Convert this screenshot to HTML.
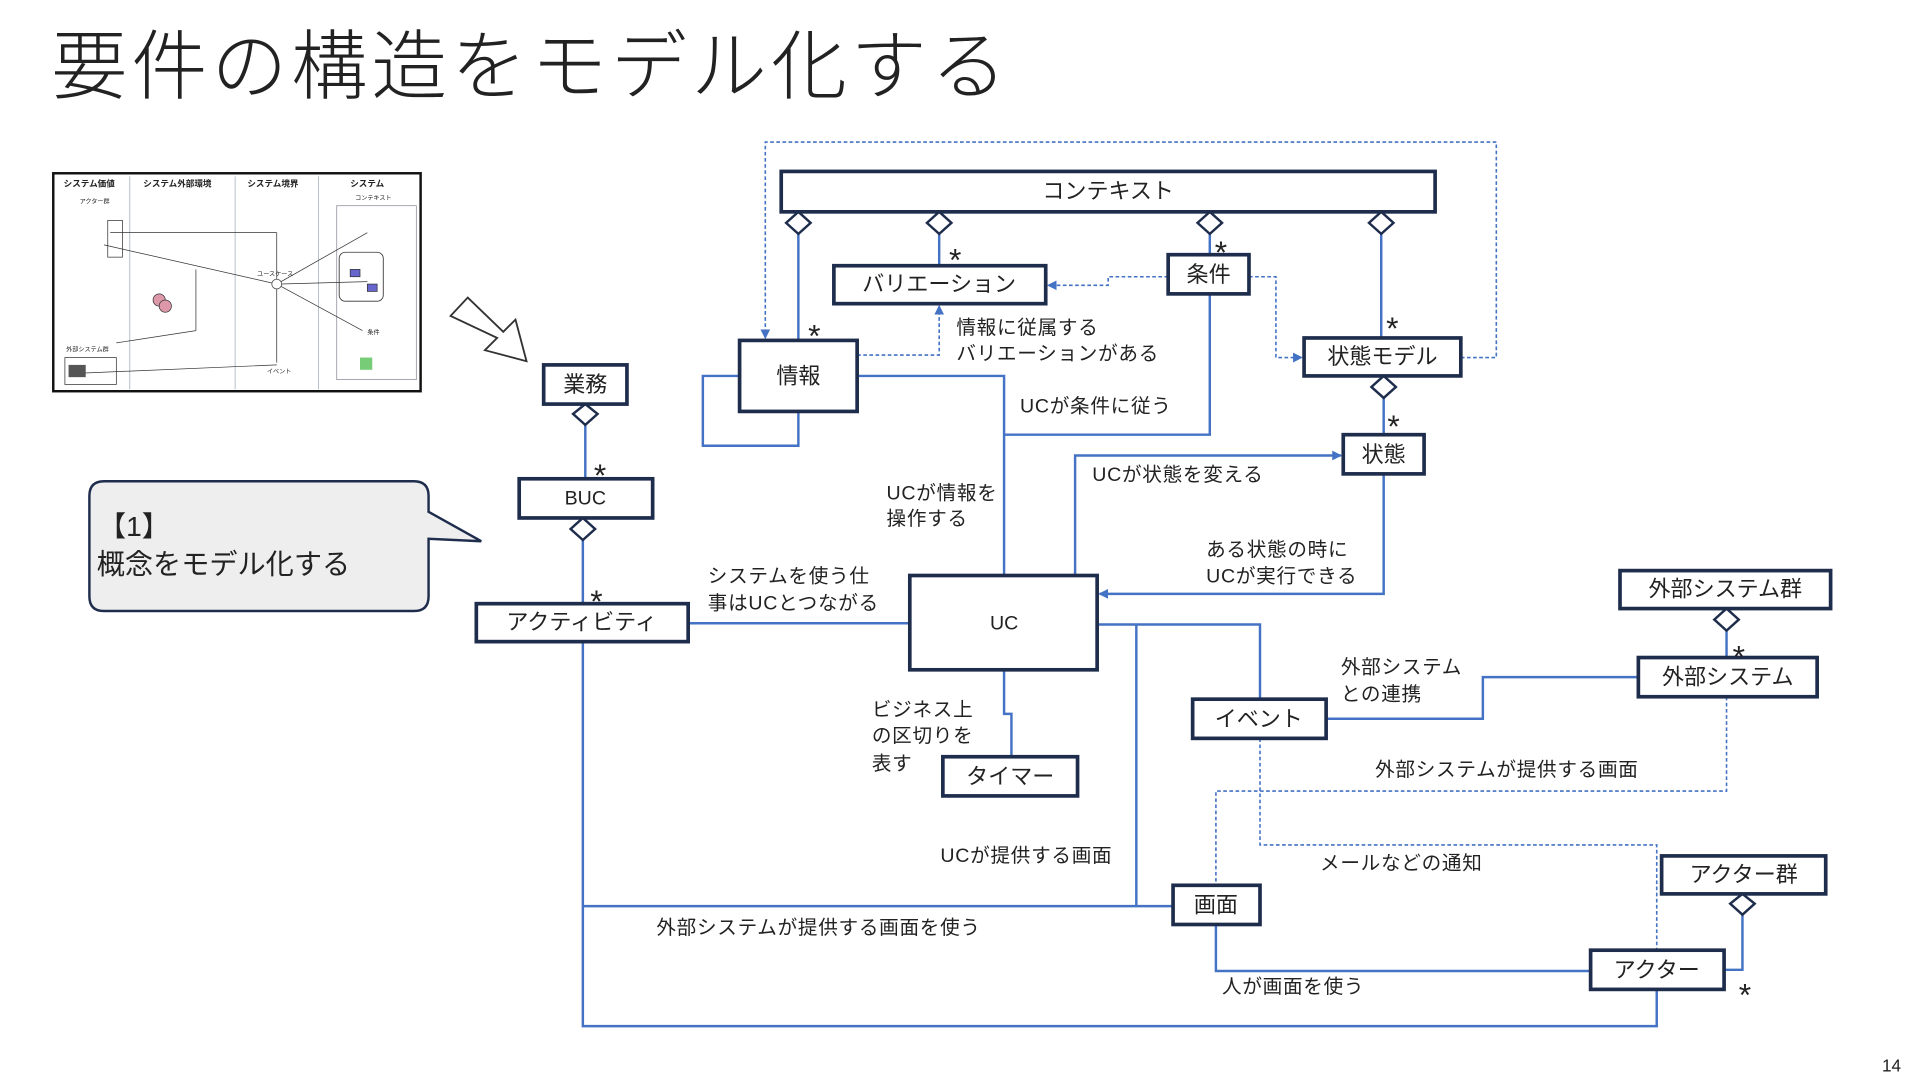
<!DOCTYPE html>
<html><head><meta charset="utf-8"><style>
html,body{margin:0;padding:0;background:#fff;}
svg{display:block}
text{font-family:"Liberation Sans","Noto Sans CJK JP",sans-serif;fill:#222;dominant-baseline:central}
</style></head><body>
<svg width="1920" height="1080" viewBox="0 0 1568 882" xmlns="http://www.w3.org/2000/svg">
<defs>
<marker id="ar" markerWidth="8" markerHeight="8" refX="7" refY="4" orient="auto" markerUnits="userSpaceOnUse"><path d="M0,0 L8,4 L0,8 z" fill="#4472c4"/></marker>
</defs>
<text x="42" y="55" font-size="62" letter-spacing="3.3" style="font-weight:300" fill="#333">要件の構造をモデル化する</text>

<!-- thumbnail -->
<g>
<rect x="43.5" y="141.5" width="300" height="178" fill="#fff" stroke="#111" stroke-width="2"/>
<g stroke="#9ab" stroke-width="0.6"><line x1="106" y1="144" x2="106" y2="318"/><line x1="192" y1="144" x2="192" y2="318"/><line x1="260" y1="144" x2="260" y2="318"/></g>
<g font-size="7" font-weight="bold"><text x="52" y="150">システム価値</text><text x="117" y="150">システム外部環境</text><text x="202" y="150">システム境界</text><text x="286" y="150">システム</text></g>
<rect x="275" y="168" width="65" height="142" fill="none" stroke="#889" stroke-width="0.6"/>
<rect x="277" y="206" width="36" height="40" rx="5" fill="none" stroke="#333" stroke-width="0.7"/>
<rect x="88" y="180" width="12" height="30" fill="none" stroke="#333" stroke-width="0.6"/>
<g stroke="#333" stroke-width="0.6" fill="none">
<line x1="90" y1="190" x2="226" y2="190"/><line x1="226" y1="190" x2="226" y2="296"/>
<path d="M85 200 L226 232 L300 190 M226 232 L300 230 M226 232 L296 270 M60 305 L226 298"/>
<line x1="160" y1="220" x2="160" y2="270"/><line x1="95" y1="280" x2="160" y2="270"/>
<circle cx="226" cy="232" r="4" fill="#fff"/>
<circle cx="130" cy="245" r="5" fill="#d9a"/><circle cx="135" cy="250" r="5" fill="#d9a"/>
<rect x="286" y="220" width="8" height="6" fill="#66c"/><rect x="300" y="232" width="8" height="6" fill="#66c"/>
<rect x="294" y="292" width="10" height="10" fill="#7c7" stroke="none"/>
<rect x="56" y="298" width="14" height="10" fill="#555" stroke="none"/>
</g>
<g font-size="5"><text x="65" y="165">アクター群</text><text x="210" y="224">ユースケース</text><text x="300" y="272">条件</text><text x="218" y="304">イベント</text><text x="54" y="286">外部システム群</text><text x="290" y="162">コンテキスト</text></g>
<rect x="53" y="292" width="42" height="22" fill="none" stroke="#333" stroke-width="0.6"/>
</g>

<!-- big arrow -->
<path d="M368,258 L382,243 L411,271 L421,261 L430,295 L396,286 L406,276 Z" fill="#fff" stroke="#333" stroke-width="1.5"/>

<!-- callout -->
<path d="M85,393 L338,393 Q350,393 350,405 L350,418 L393,442 L350,440 L350,487 Q350,499 338,499 L85,499 Q73,499 73,487 L73,405 Q73,393 85,393 Z" fill="#eeeeee" stroke="#1f2d4d" stroke-width="2"/>
<text x="80" y="430" font-size="23">【1】</text>
<text x="79" y="461" font-size="23">概念をモデル化する</text>

<!-- connectors -->
<g stroke="#4472c4" stroke-width="2" fill="none">
<line x1="652" y1="190" x2="652" y2="278"/>
<line x1="767" y1="190" x2="767" y2="217"/>
<line x1="988" y1="190" x2="988" y2="208"/>
<line x1="1128" y1="190" x2="1128" y2="276"/>
<path d="M604,307 L574,307 L574,364 L652,364 L652,336"/>
<path d="M700,307 L820,307 L820,470"/>
<path d="M988,240 L988,355 L820,355"/>
<line x1="1130" y1="324" x2="1130" y2="355"/>
<path d="M878,470 L878,372 L1095,372" marker-end="url(#ar)"/>
<path d="M1130,387 L1130,485 L898,485" marker-end="url(#ar)"/>
<line x1="478" y1="346" x2="478" y2="391"/>
<line x1="476" y1="440" x2="476" y2="493"/>
<line x1="562" y1="509" x2="743" y2="509"/>
<path d="M476,524 L476,838 L1353,838 L1353,808"/>
<line x1="476" y1="740" x2="958" y2="740"/>
<path d="M896,510 L1029,510 L1029,571"/>
<line x1="928" y1="510" x2="928" y2="740"/>
<path d="M820,547 L820,583 L826,583 L826,618"/>
<path d="M1083,587 L1211,587 L1211,553 L1338,553"/>
<line x1="1410" y1="514" x2="1410" y2="537"/>
<path d="M993,755 L993,793 L1299,793"/>
<path d="M1423,746 L1423,792 L1408,792"/>
</g>
<g stroke="#4472c4" stroke-width="1.3" fill="none" stroke-dasharray="3,2">
<path d="M1193,292 L1222,292 L1222,116 L625,116 L625,276" marker-end="url(#ar)"/>
<path d="M954,226 L905,226 L905,233 L856,233" marker-end="url(#ar)"/>
<path d="M1020,226 L1042,226 L1042,292 L1063,292" marker-end="url(#ar)"/>
<path d="M700,290 L767,290 L767,250" marker-end="url(#ar)"/>
<path d="M1410,569 L1410,646 L993,646 L993,723"/>
<path d="M1029,603 L1029,690 L1353,690 L1353,776"/>
</g>

<!-- diamonds -->
<g fill="#fff" stroke="#1f2d4d" stroke-width="2">
<path d="M652,173 L662,182 L652,191 L642,182 Z"/>
<path d="M767,173 L777,182 L767,191 L757,182 Z"/>
<path d="M988,173 L998,182 L988,191 L978,182 Z"/>
<path d="M1128,173 L1138,182 L1128,191 L1118,182 Z"/>
<path d="M1130,307 L1140,316 L1130,325 L1120,316 Z"/>
<path d="M478,330 L488,338 L478,347 L468,338 Z"/>
<path d="M476,423 L486,432 L476,441 L466,432 Z"/>
<path d="M1410,497 L1420,506 L1410,515 L1400,506 Z"/>
<path d="M1423,730 L1433,738 L1423,747 L1413,738 Z"/>
</g>

<!-- boxes -->
<g fill="#fff" stroke="#1f2d4d" stroke-width="3">
<rect x="638" y="140" width="534" height="33"/>
<rect x="681" y="217" width="173" height="31"/>
<rect x="954" y="208" width="66" height="32"/>
<rect x="1065" y="276" width="128" height="31"/>
<rect x="604" y="278" width="96" height="58"/>
<rect x="444" y="298" width="68" height="32"/>
<rect x="424" y="391" width="109" height="32"/>
<rect x="1097" y="355" width="66" height="32"/>
<rect x="389" y="493" width="173" height="31"/>
<rect x="743" y="470" width="153" height="77"/>
<rect x="1323" y="466" width="172" height="31"/>
<rect x="1338" y="537" width="146" height="32"/>
<rect x="974" y="571" width="109" height="32"/>
<rect x="770" y="618" width="110" height="32"/>
<rect x="1357" y="699" width="134" height="31"/>
<rect x="958" y="723" width="71" height="32"/>
<rect x="1299" y="776" width="109" height="32"/>
</g>
<g font-size="18" text-anchor="middle">
<text x="905" y="156">コンテキスト</text>
<text x="767" y="232">バリエーション</text>
<text x="987" y="224">条件</text>
<text x="1129" y="291">状態モデル</text>
<text x="652" y="307">情報</text>
<text x="478" y="314">業務</text>
<text x="478" y="407" font-size="16">BUC</text>
<text x="1130" y="371">状態</text>
<text x="475" y="508">アクティビティ</text>
<text x="820" y="509" font-size="16">UC</text>
<text x="1409" y="481">外部システム群</text>
<text x="1411" y="553">外部システム</text>
<text x="1028" y="587">イベント</text>
<text x="825" y="634">タイマー</text>
<text x="1424" y="714">アクター群</text>
<text x="993" y="739">画面</text>
<text x="1353" y="792">アクター</text>
</g>

<!-- multiplicities -->
<g font-size="26">
<text x="775" y="212">*</text><text x="992" y="206">*</text><text x="660" y="274">*</text>
<text x="1132" y="268">*</text><text x="1133" y="348">*</text><text x="485" y="388">*</text>
<text x="482" y="491">*</text><text x="1415" y="536">*</text><text x="1420" y="812">*</text>
</g>

<!-- labels -->
<g font-size="16" letter-spacing="0.6">
<text x="781" y="268">情報に従属する</text><text x="781" y="289">バリエーションがある</text>
<text x="833" y="332">UCが条件に従う</text>
<text x="892" y="388">UCが状態を変える</text>
<text x="724" y="403">UCが情報を</text><text x="724" y="424">操作する</text>
<text x="985" y="449">ある状態の時に</text><text x="985" y="471">UCが実行できる</text>
<text x="578" y="471">システムを使う仕</text><text x="578" y="493">事はUCとつながる</text>
<text x="1095" y="545">外部システム</text><text x="1095" y="567">との連携</text>
<text x="712" y="580">ビジネス上</text><text x="712" y="601">の区切りを</text><text x="712" y="624">表す</text>
<text x="1123" y="629">外部システムが提供する画面</text>
<text x="768" y="699">UCが提供する画面</text>
<text x="1078" y="705">メールなどの通知</text>
<text x="536" y="758">外部システムが提供する画面を使う</text>
<text x="998" y="806">人が画面を使う</text>
</g>
<text x="1537" y="870" font-size="14">14</text>
</svg>
</body></html>
